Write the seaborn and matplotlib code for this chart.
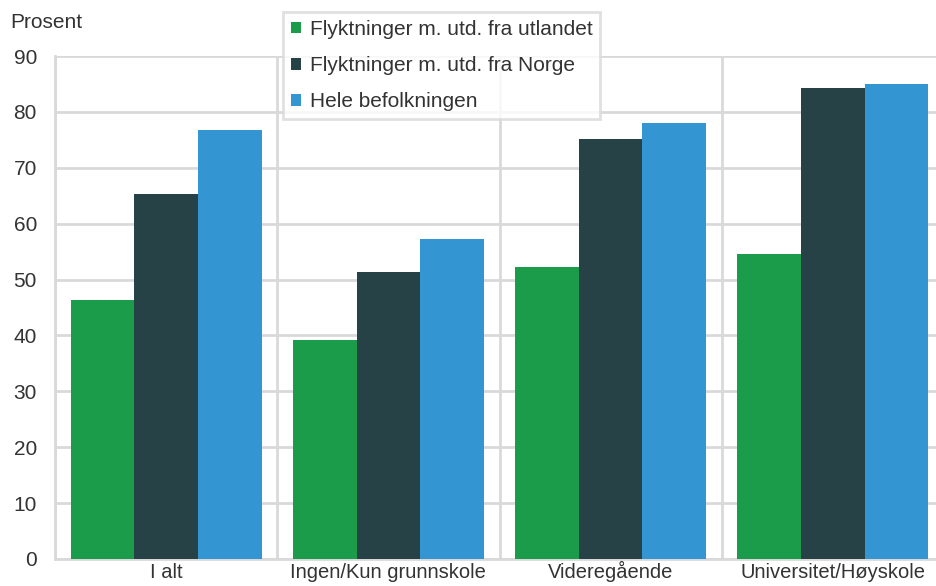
import pandas as pd
import numpy as np
import matplotlib.pyplot as plt
import seaborn as sns
from matplotlib.ticker import FixedLocator

# data
kategorier = ["I alt", "Ingen/Kun grunnskole", "Videregående", "Universitet/Høyskole"]
serier = ["Flyktninger m. utd. fra utlandet", "Flyktninger m. utd. fra Norge", "Hele befolkningen"]
utlandet = [46.3, 39.2, 52.2, 54.6]
norge = [65.3, 51.3, 75.1, 84.3]
hele = [76.7, 57.2, 78.0, 85.0]
farger = ["#1b9c4a", "#274247", "#3495d3"]

df = pd.DataFrame({
    "kategori": kategorier * 3,
    "gruppe": [serier[0]] * 4 + [serier[1]] * 4 + [serier[2]] * 4,
    "verdi": utlandet + norge + hele,
})

sns.set_theme(style="white")
plt.rcParams["font.family"] = ["Liberation Sans", "DejaVu Sans"]

fig = plt.figure(figsize=(9.36, 5.86), dpi=100)
ax = fig.add_axes([55 / 936, 27 / 586, 889 / 936, 503 / 586])

sns.barplot(data=df, x="kategori", y="verdi", hue="gruppe", palette=farger,
            width=0.86, gap=0, saturation=1, edgecolor="none", ax=ax, zorder=3)

ax.set_ylim(0, 90)
ax.set_xlim(-0.5, 3.5)
ax.set_yticks(range(0, 91, 10))
ax.xaxis.set_minor_locator(FixedLocator([-0.5, 0.5, 1.5, 2.5, 3.5]))
ax.grid(axis="y", color="#d9d9d9", linewidth=2, zorder=0)
ax.grid(axis="x", which="minor", color="#d9d9d9", linewidth=2, zorder=0)
ax.grid(axis="x", which="major", visible=False)
ax.set_axisbelow(True)
for s in ["top", "right"]:
    ax.spines[s].set_visible(False)
for s in ["left", "bottom"]:
    ax.spines[s].set_color("#d9d9d9")
    ax.spines[s].set_linewidth(2)
ax.tick_params(axis="both", which="both", length=0, labelsize=15, colors="#333333")
ax.tick_params(axis="y", pad=13)
ax.tick_params(axis="x", labelsize=14.5, pad=14)
for lab in ax.get_xticklabels():
    lab.set_va("baseline")
ax.set_xlabel("")
ax.set_ylabel("")
fig.text(10 / 936, 1 - 22 / 586, "Prosent", fontsize=15, color="#333333", va="center", ha="left")

leg = ax.legend(loc="upper left", bbox_to_anchor=((283 - 55) / 889, 1 + 44 / 503),
                frameon=True, fontsize=15, handlelength=0.5, handleheight=0.5,
                handletextpad=0.4, labelspacing=0.82, borderpad=0.38, borderaxespad=0,
                fancybox=False, title=None)
leg.get_frame().set_edgecolor("#d9d9d9")
leg.get_frame().set_linewidth(2)
for t in leg.get_texts():
    t.set_color("#333333")

fig.savefig("out.png", dpi=100)
